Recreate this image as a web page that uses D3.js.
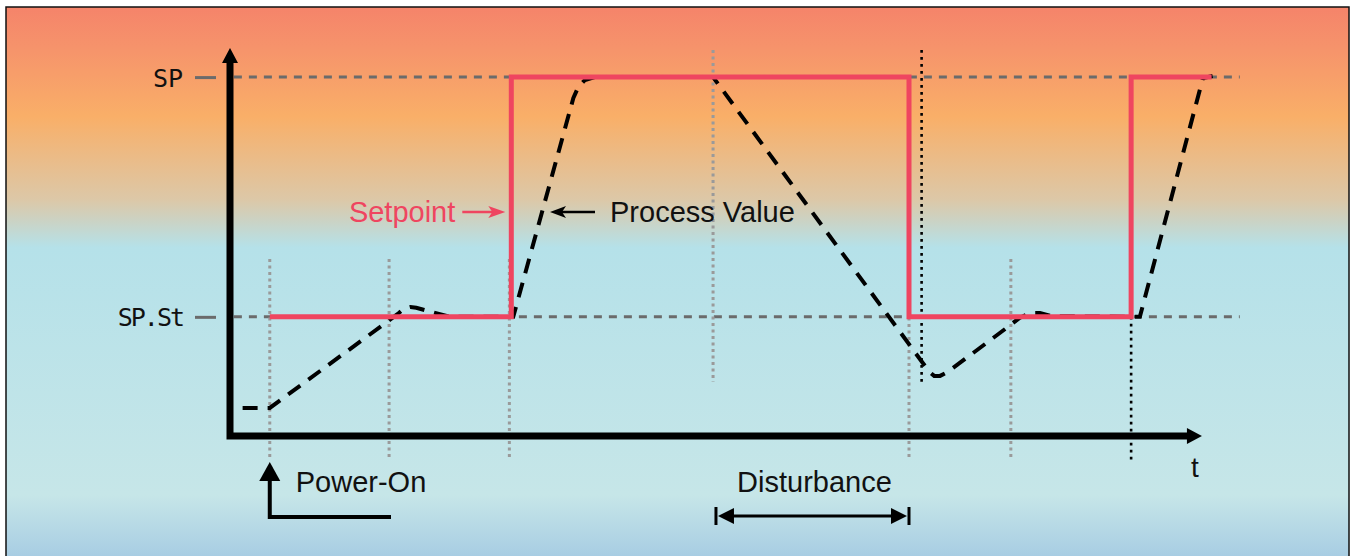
<!DOCTYPE html>
<html>
<head>
<meta charset="utf-8">
<script src="https://cdn.jsdelivr.net/npm/d3@7"></script>
<style>
  body { margin: 0; background: #fff; }
  svg { display: block; }
</style>
</head>
<body>
<svg id="chart"></svg>
<script>
var width = 1352, height = 556;

// level ticks on the value axis
var levelNames = ['SP.St', 'SP'];
var levelValues = [33.1, 99.7];

// setpoint (step after each time)
var spTimes = [4.1, 29.0, 70.0, 92.9, 101.2];
var spValues = [33.1, 99.7, 33.1, 99.7, 99.7];

// process value
var pvTimes = [1.3, 4.1, 17.3, 17.9, 18.6, 19.2, 22.7, 29.2, 35.4, 35.9, 36.6, 37.6, 49.8,
  71.5, 72.1, 72.6, 73.2, 74.0, 80.2, 81.4, 82.5, 83.5, 84.7, 93.8, 100.3, 101.3];
var pvValues = [7.8, 7.8, 33.9, 35.3, 35.8, 35.6, 33.1, 33.1, 93.9, 96.9, 98.9, 99.7, 99.7,
  20.0, 17.8, 16.7, 16.7, 17.8, 30.3, 32.8, 34.2, 34.2, 33.3, 33.1, 99.4, 100.0];

// vertical guide lines
var grayTimes = [4.1, 16.4, 28.8, 49.8, 70.0, 80.5];
var grayTop = [49.2, 49.2, 49.2, 107.2, 49.2, 49.2];
var grayBottom = [-6.7, -6.7, -6.7, 15.0, -6.7, -6.7];
var blackTimes = [71.3, 92.9];
var blackTop = [107.2, 33.1];
var blackBottom = [15.0, -7.3];

var powerOnTime = 4.1;
var disturbanceTimes = [50.1, 70.0];
var axisEndTime = 100.2;
var axisEndValue = 107.8;

var red = '#ef4560';
var font = '"Liberation Sans", Arial, sans-serif';

var x = d3.scaleLinear().domain([0, 100]).range([230, 1200]);
var y = d3.scaleLinear().domain([0, 100]).range([436, 76]);

var svg = d3.select('#chart')
  .attr('width', width)
  .attr('height', height);

//background gradient
var grad = svg.append('defs').append('linearGradient')
  .attr('id', 'bg')
  .attr('gradientUnits', 'userSpaceOnUse')
  .attr('x1', 0).attr('y1', 0).attr('x2', 0).attr('y2', height);
[[0.0, '#f5816a'], [0.09, '#f6946b'], [0.21, '#f9af68'], [0.36, '#dcc8a8'],
 [0.445, '#b5e1e9'], [0.89, '#c6e6e8'], [1.0, '#a8cde3']].forEach(function(s) {
  grad.append('stop').attr('offset', s[0]).attr('stop-color', s[1]);
});

svg.append('rect')
  .attr('x', 6).attr('y', 7)
  .attr('width', 1343).attr('height', 560)
  .attr('fill', 'url(#bg)')
  .attr('stroke', '#111')
  .attr('stroke-width', 1.5);

//dashed level lines
svg.append('g').selectAll('line')
  .data(levelValues)
  .join('line')
  .attr('x1', x(0.4)).attr('x2', x(104.1))
  .attr('y1', function(d) { return y(d); })
  .attr('y2', function(d) { return y(d); })
  .attr('stroke', '#6b6b6b')
  .attr('stroke-width', 3)
  .attr('stroke-dasharray', '8,7');

//level ticks + lcd labels
var yAxis = d3.axisLeft(y)
  .tickValues(levelValues)
  .tickFormat(function(d, i) { return levelNames[i]; })
  .tickSize(21)
  .tickPadding(12);
var yg = svg.append('g')
  .attr('transform', 'translate(216,0)')
  .call(yAxis);
yg.select('.domain').remove();
yg.selectAll('.tick line').attr('stroke', '#6b6b6b').attr('stroke-width', 3);
yg.selectAll('.tick text')
  .attr('fill', '#111')
  .attr('font-family', '"DejaVu Sans Mono", monospace')
  .attr('font-size', '25px')
  .attr('letter-spacing', function(d, i) { return i == 0 ? '-2px' : '0px'; })
  .attr('dy', '0.36em');
yg.attr('font-family', null).attr('font-size', null);

//gray dotted guides
svg.append('g').selectAll('line')
  .data(grayTimes)
  .join('line')
  .attr('x1', function(d) { return x(d); })
  .attr('x2', function(d) { return x(d); })
  .attr('y1', function(d, i) { return y(grayTop[i]); })
  .attr('y2', function(d, i) { return y(grayBottom[i]); })
  .attr('stroke', '#9a9a9a')
  .attr('stroke-width', 3)
  .attr('stroke-dasharray', '3,3.5');

//black dotted guides
svg.append('g').selectAll('line')
  .data(blackTimes)
  .join('line')
  .attr('x1', function(d) { return x(d); })
  .attr('x2', function(d) { return x(d); })
  .attr('y1', function(d, i) { return y(blackTop[i]); })
  .attr('y2', function(d, i) { return y(blackBottom[i]); })
  .attr('stroke', '#000')
  .attr('stroke-width', 2.6)
  .attr('stroke-dasharray', '2.6,4.4');

//axes with arrow heads
var x0 = x(0), y0 = y(0), xt = x(axisEndTime), yt = y(axisEndValue);
svg.append('path')
  .attr('d', 'M' + x0 + ',' + (yt + 14) + 'V' + y0 + 'H' + (xt - 14))
  .attr('fill', 'none')
  .attr('stroke', '#000')
  .attr('stroke-width', 7)
  .attr('stroke-linejoin', 'miter');
svg.append('path')
  .attr('d', 'M' + x0 + ',' + yt + 'L' + (x0 + 8) + ',' + (yt + 15) + 'L' + (x0 - 8) + ',' + (yt + 15) + 'Z')
  .attr('fill', '#000');
svg.append('path')
  .attr('d', 'M' + xt + ',' + y0 + 'L' + (xt - 15) + ',' + (y0 - 8) + 'L' + (xt - 15) + ',' + (y0 + 8) + 'Z')
  .attr('fill', '#000');

svg.append('text')
  .attr('x', xt - 7).attr('y', y0 + 41)
  .attr('text-anchor', 'middle')
  .attr('font-family', font)
  .attr('font-size', '28px')
  .attr('fill', '#111')
  .text('t');

//process value
var pvLine = d3.line()
  .x(function(d) { return x(d); })
  .y(function(d, i) { return y(pvValues[i]); });
svg.append('path')
  .attr('d', pvLine(pvTimes))
  .attr('fill', 'none')
  .attr('stroke', '#000')
  .attr('stroke-width', 4)
  .attr('stroke-dasharray', '15,10');

//setpoint
var spLine = d3.line()
  .curve(d3.curveStepAfter)
  .x(function(d) { return x(d); })
  .y(function(d, i) { return y(spValues[i]); });
svg.append('path')
  .attr('d', spLine(spTimes))
  .attr('fill', 'none')
  .attr('stroke', red)
  .attr('stroke-width', 5)
  .attr('stroke-linejoin', 'miter');

// labels with arrows
var ly = y(62.2);
var sx = x(spTimes[1]) - 6;
svg.append('text')
  .attr('x', sx - 50).attr('y', ly + 10)
  .attr('text-anchor', 'end')
  .attr('font-family', font).attr('font-size', '29px')
  .attr('fill', red)
  .text('Setpoint');
svg.append('line')
  .attr('x1', sx - 43).attr('x2', sx - 10)
  .attr('y1', ly).attr('y2', ly)
  .attr('stroke', red).attr('stroke-width', 2.5);
svg.append('path')
  .attr('d', 'M' + sx + ',' + ly + 'L' + (sx - 17) + ',' + (ly - 6) + 'L' + (sx - 13) + ',' + ly + 'L' + (sx - 17) + ',' + (ly + 6) + 'Z')
  .attr('fill', red);

var px = 550;
svg.append('line')
  .attr('x1', px + 8).attr('x2', px + 45)
  .attr('y1', ly).attr('y2', ly)
  .attr('stroke', '#000').attr('stroke-width', 2.5);
svg.append('path')
  .attr('d', 'M' + px + ',' + ly + 'L' + (px + 16) + ',' + (ly - 6) + 'L' + (px + 12) + ',' + ly + 'L' + (px + 16) + ',' + (ly + 6) + 'Z')
  .attr('fill', '#000');
svg.append('text')
  .attr('x', px + 60).attr('y', ly + 10)
  .attr('font-family', font).attr('font-size', '29px')
  .attr('fill', '#111')
  .text('Process Value');

//power-on marker
var pw = x(powerOnTime);
svg.append('path')
  .attr('d', 'M' + pw + ',478V517H391')
  .attr('fill', 'none')
  .attr('stroke', '#000')
  .attr('stroke-width', 4)
  .attr('stroke-linejoin', 'miter');
svg.append('path')
  .attr('d', 'M' + pw + ',462L' + (pw + 10.5) + ',481L' + (pw - 10.5) + ',481Z')
  .attr('fill', '#000');
svg.append('text')
  .attr('x', pw + 26).attr('y', 492)
  .attr('font-family', font).attr('font-size', '29px')
  .attr('fill', '#111')
  .text('Power-On');

//disturbance span
var d1 = x(disturbanceTimes[0]), d2 = x(disturbanceTimes[1]);
var dy = 516;
svg.append('text')
  .attr('x', (d1 + d2) / 2 + 2).attr('y', 492)
  .attr('text-anchor', 'middle')
  .attr('font-family', font).attr('font-size', '29px')
  .attr('fill', '#111')
  .text('Disturbance');
svg.append('line')
  .attr('x1', d1 + 10).attr('x2', d2 - 10)
  .attr('y1', dy).attr('y2', dy)
  .attr('stroke', '#000').attr('stroke-width', 3);
svg.append('g').selectAll('line')
  .data([d1, d2])
  .join('line')
  .attr('x1', function(d) { return d; })
  .attr('x2', function(d) { return d; })
  .attr('y1', dy - 9).attr('y2', dy + 9)
  .attr('stroke', '#000').attr('stroke-width', 3);
svg.append('path')
  .attr('d', 'M' + (d1 + 2) + ',' + dy + 'L' + (d1 + 18) + ',' + (dy - 8) + 'L' + (d1 + 18) + ',' + (dy + 8) + 'Z' +
    'M' + (d2 - 2) + ',' + dy + 'L' + (d2 - 18) + ',' + (dy - 8) + 'L' + (d2 - 18) + ',' + (dy + 8) + 'Z')
  .attr('fill', '#000');
</script>
</body>
</html>
